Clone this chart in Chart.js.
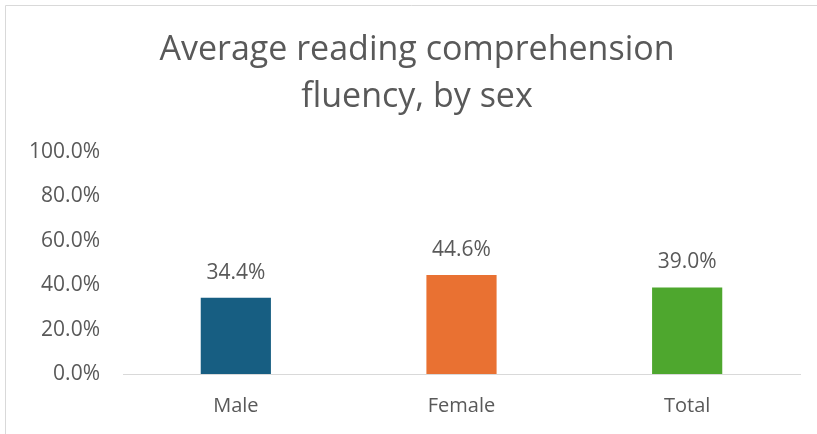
<!DOCTYPE html>
<html lang="en">
<head>
  <meta charset="UTF-8" />
  <title>Average reading comprehension fluency, by sex</title>
  <style>
    html, body { margin: 0; padding: 0; background: #ffffff; overflow: hidden; }
    .chart-box { width: 817px; height: 434px; position: relative; }
  </style>
</head>
<body>
  <div class="chart-box">
    <canvas id="fluencyChart"></canvas>
  </div>

  <script src="https://cdn.jsdelivr.net/npm/chart.js"></script>
  <script>
    const categories = ['Male', 'Female', 'Total'];
    const fluency = [34.4, 44.6, 39.0];
    const barColors = ['#175e82', '#e97132', '#4ea72e'];
    const yTicks = [0, 20, 40, 60, 80, 100];
    const titleLines = ['Average reading comprehension', 'fluency, by sex'];

    const textColor = '#595959';
    const fontFamily = '"Open Sans", "Noto Sans", sans-serif';

    // frame lines on the left and top, plus the two-line title
    const framePlugin = {
      id: 'frame',
      beforeDraw(chart) {
        const ctx = chart.ctx;
        ctx.save();
        ctx.strokeStyle = '#d9d9d9';
        ctx.lineWidth = 1;
        ctx.beginPath();
        ctx.moveTo(5.5, chart.height);
        ctx.lineTo(5.5, 5.5);
        ctx.lineTo(chart.width, 5.5);
        ctx.stroke();

        ctx.fillStyle = textColor;
        ctx.font = '34px ' + fontFamily;
        ctx.textAlign = 'center';
        ctx.textBaseline = 'middle';
        titleLines.forEach((line, i) => {
          ctx.fillText(line, 417, 50 + i * 47);
        });
        ctx.restore();
      }
    };

    // value labels above each bar
    const valueLabels = {
      id: 'valueLabels',
      afterDatasetsDraw(chart) {
        const ctx = chart.ctx;
        const meta = chart.getDatasetMeta(0);
        ctx.save();
        ctx.fillStyle = textColor;
        ctx.font = '21px ' + fontFamily;
        ctx.textAlign = 'center';
        ctx.textBaseline = 'middle';
        meta.data.forEach((bar, i) => {
          ctx.fillText(fluency[i].toFixed(1) + '%', bar.x, bar.y - 25);
        });
        ctx.restore();
      }
    };

    new Chart(document.getElementById('fluencyChart'), {
      type: 'bar',
      data: {
        labels: categories,
        datasets: [{
          data: fluency,
          backgroundColor: barColors,
          borderWidth: 0,
          barPercentage: 1,
          categoryPercentage: 0.311
        }]
      },
      options: {
        responsive: true,
        maintainAspectRatio: false,
        animation: false,
        layout: { padding: { left: 5, right: 17, top: 152, bottom: 4 } },
        plugins: {
          legend: { display: false },
          tooltip: { enabled: false },
          title: { display: false }
        },
        scales: {
          x: {
            grid: { display: false },
            border: { color: '#d9d9d9', width: 1 },
            ticks: {
              color: textColor,
              padding: 12,
              font: { family: fontFamily, size: 20 }
            }
          },
          y: {
            min: 0,
            max: 100,
            afterBuildTicks(scale) {
              scale.ticks = yTicks.map(v => ({ value: v }));
            },
            afterFit(scale) { scale.width = 118; },
            grid: { display: false },
            border: { display: false },
            ticks: {
              color: textColor,
              padding: 15,
              font: { family: fontFamily, size: 21 },
              callback: v => v.toFixed(1) + '%'
            }
          }
        }
      },
      plugins: [framePlugin, valueLabels]
    });
  </script>
</body>
</html>
